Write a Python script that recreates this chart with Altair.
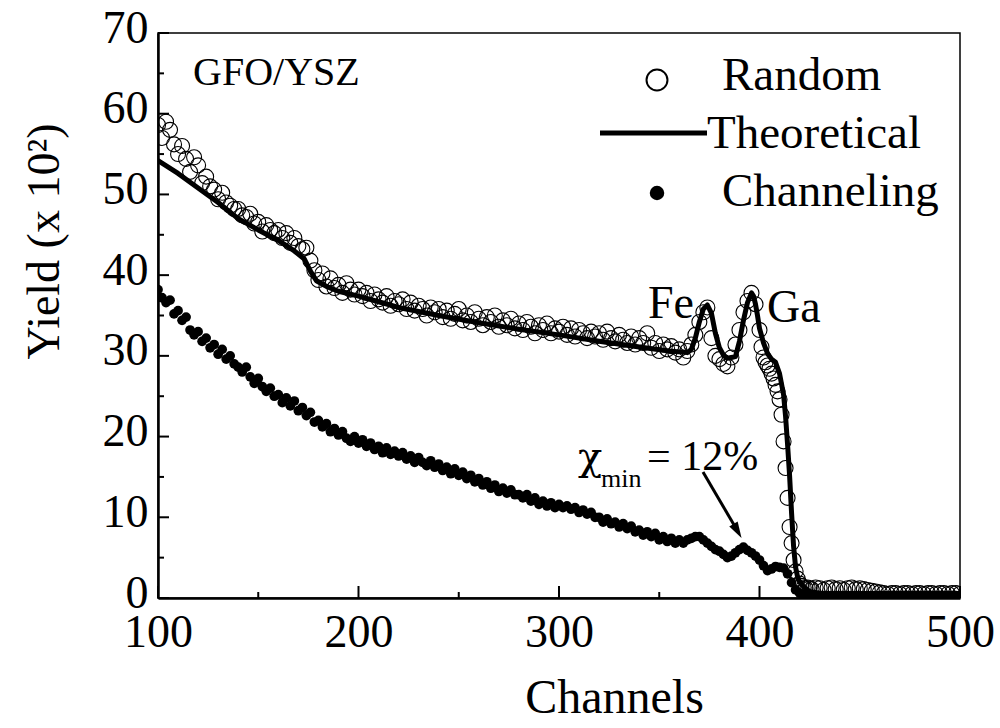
import altair as alt
import pandas as pd

SERIF = "Liberation Serif"
W, H = 802, 565  # plot area in pixels

# ---- Random spectrum (yield in units of 10^2 counts) ----
random_main_channels = list(range(100, 400, 2))
random_main = [
    58.6, 57.0, 59.0, 58.0, 56.2, 55.0, 56.0, 54.4, 52.8, 54.6,
    53.6, 51.4, 52.2, 51.0, 50.6, 49.4, 50.2, 49.0, 48.6, 48.2,
    48.2, 47.4, 47.2, 47.6, 46.4, 46.6, 45.4, 46.2, 45.6, 45.2,
    45.6, 44.6, 45.2, 44.0, 44.6, 43.6, 43.2, 43.4, 41.8, 40.6,
    39.4, 40.2, 38.6, 39.6, 38.4, 38.8, 37.8, 39.0, 38.2, 37.6,
    38.2, 37.4, 37.8, 36.8, 37.6, 37.0, 36.6, 37.4, 36.2, 36.8,
    36.4, 37.0, 35.8, 36.6, 35.6, 36.2, 35.8, 35.0, 36.0, 35.4,
    35.8, 34.8, 35.6, 34.6, 35.2, 35.8, 34.4, 35.0, 34.2, 35.4,
    34.6, 33.8, 34.8, 34.2, 35.0, 33.6, 34.4, 33.8, 34.6, 33.4,
    34.0, 33.2, 34.2, 33.6, 32.8, 33.8, 33.2, 34.0, 32.8, 33.4,
    33.0, 33.6, 32.6, 33.4, 32.4, 33.2, 32.8, 32.2, 33.0, 32.4,
    32.8, 32.0, 33.0, 32.2, 31.8, 32.6, 32.0, 31.6, 32.4, 31.4,
    32.2, 31.6, 32.8, 31.0, 31.6, 30.6, 31.4, 30.8, 31.2, 30.4,
    30.8, 29.8, 30.6, 31.4, 32.6, 34.2, 35.4, 36.0, 32.2, 30.0,
    29.6, 29.0, 28.7, 29.8, 31.4, 33.2, 35.4, 36.8, 37.8, 36.4,
]
random_edge_channels = list(range(400, 426))
random_edge = [
    33.2, 31.1, 29.8, 29.2, 28.8, 28.4, 27.8, 27.2, 26.4, 25.6,
    24.6, 22.7, 19.4, 16.1, 12.4, 8.8, 6.8, 4.7, 3.3, 2.4,
    1.8, 1.5, 1.3, 1.2, 1.3, 1.2,
]
random_tail_channels = list(range(426, 501, 2))
random_tail = [
    1.1, 1.3, 1.2, 1.0, 1.2, 1.3, 1.1, 1.2, 1.0, 1.2, 1.3, 1.1, 1.2, 1.1, 1.0,
    0.9, 0.8, 0.7,
    0.6, 0.5, 0.6, 0.6, 0.5, 0.6, 0.6, 0.5, 0.6, 0.6,
    0.5, 0.6, 0.6, 0.5, 0.6, 0.6, 0.5, 0.6, 0.6, 0.5,
]

# ---- Aligned (channeling) spectrum ----
channeling_channels = list(range(100, 501, 2))
channeling = [
    38.2, 37.2, 36.6, 36.9, 35.2, 35.6, 34.4, 34.8, 33.2, 32.6,
    33.0, 31.8, 32.2, 31.0, 31.4, 30.2, 30.8, 29.6, 30.0, 29.0,
    28.6, 28.0, 28.6, 27.4, 26.6, 27.2, 26.2, 25.6, 26.0, 25.0,
    25.2, 24.2, 24.8, 23.8, 24.4, 23.2, 23.6, 22.6, 23.0, 21.8,
    22.0, 21.2, 21.6, 20.6, 21.0, 20.2, 20.6, 19.8, 19.4, 20.0,
    19.2, 19.6, 18.8, 19.2, 18.4, 18.8, 18.0, 18.6, 17.8, 18.2,
    17.6, 18.0, 17.2, 17.6, 16.8, 17.4, 16.8, 16.4, 17.0, 16.2,
    16.6, 15.8, 16.2, 15.4, 16.0, 15.2, 15.6, 14.8, 15.2, 14.4,
    14.8, 14.0, 14.4, 13.6, 14.0, 13.2, 13.6, 13.0, 13.4, 12.8,
    12.8, 12.4, 12.8, 12.0, 12.4, 11.6, 12.0, 11.4, 11.8, 11.2,
    11.6, 11.2, 11.4, 11.0, 11.2, 10.6, 10.9, 10.4, 10.6, 10.0,
    10.0, 9.4, 9.8, 9.2, 9.4, 8.8, 9.2, 8.6, 8.9, 8.2,
    8.4, 7.8, 8.2, 7.6, 8.0, 7.2, 7.6, 7.0, 7.4, 6.8,
    7.2, 6.8, 7.2, 7.4, 7.6, 7.6, 7.2, 6.8, 6.4, 6.0,
    5.8, 5.4, 5.0, 5.2, 5.6, 6.0, 6.3, 5.9, 5.6, 5.2,
    4.7, 4.0, 3.4, 3.6, 3.9, 3.8, 3.7, 3.0, 1.9, 1.0,
    0.6, 0.4, 0.3, 0.3, 0.3, 0.3, 0.3, 0.3, 0.3, 0.3,
    0.3, 0.3, 0.3, 0.3, 0.3, 0.3, 0.3, 0.3, 0.3, 0.3,
    0.3, 0.3, 0.3, 0.3, 0.3, 0.3, 0.3, 0.3, 0.3, 0.3,
    0.3, 0.3, 0.3, 0.3, 0.3, 0.3, 0.3, 0.3, 0.3, 0.3,
    0.3,
]

# ---- Simulated random spectrum ----
theory_channels = [
    100, 110, 120, 130, 140, 150, 160, 168, 173, 176,
    179, 184, 190, 200, 210, 220, 240, 260, 280, 300,
    320, 340, 355, 364, 366, 368, 370, 372, 374, 376,
    378, 380, 382, 384, 386, 388, 390, 392, 394, 396,
    397, 398, 399, 400, 402, 404, 406, 408, 410, 412,
    413, 414, 415, 416, 417, 418, 419, 420, 422, 425,
    430, 500,
]
theory = [
    54.2, 52.6, 50.8, 49.0, 47.0, 45.6, 44.3, 43.0, 42.0, 40.5,
    39.3, 38.6, 38.0, 37.4, 36.7, 36.0, 35.0, 34.1, 33.3, 32.6,
    31.8, 31.1, 30.6, 30.4, 30.8, 32.2, 34.2, 35.8, 36.3, 35.3,
    32.8, 31.0, 30.1, 29.7, 29.8, 29.9, 31.8, 34.4, 36.6, 37.8,
    37.4, 36.4, 35.0, 33.4, 31.6, 30.3, 29.6, 29.2, 27.8, 25.2,
    22.5, 19.0, 15.2, 10.5, 6.4, 3.8, 2.6, 2.0, 1.4, 0.8,
    0.6, 0.5,
]

x_major = [100, 200, 300, 400, 500]
x_minor = [150, 250, 350, 450]
y_major = [0, 10, 20, 30, 40, 50, 60, 70]
y_minor = [5, 15, 25, 35, 45, 55, 65]

random_df = pd.DataFrame({
    "channel": random_main_channels + random_edge_channels + random_tail_channels,
    "yield": random_main + random_edge + random_tail,
})
channeling_df = pd.DataFrame({"channel": channeling_channels, "yield": channeling})
theory_df = pd.DataFrame({"channel": theory_channels, "yield": theory})

x_enc = alt.X(
    "channel:Q",
    scale=alt.Scale(domain=[100, 500], nice=False, zero=False),
    axis=alt.Axis(
        values=x_major, ticks=False, grid=False, format="d",
        domainColor="black", domainWidth=2.5,
        labelFontSize=46, labelPadding=12, labelFlush=False, labelOverlap=False,
        title="Channels", titleFontSize=48, titleFontWeight="normal",
        titleX=456, titleY=114, titleBaseline="alphabetic",
    ),
)
y_enc = alt.Y(
    "yield:Q",
    scale=alt.Scale(domain=[0, 70], nice=False),
    axis=alt.Axis(
        values=y_major, ticks=False, grid=False, format="d",
        domainColor="black", domainWidth=2.5,
        labelFontSize=46, labelPadding=10, labelOffset=-5,
        labelFlush=False, labelOverlap=False,
        title="Yield (x 10²)", titleFontSize=46, titleFontWeight="normal",
        titleAngle=270, titleX=-100, titleY=208,
        titleAlign="center", titleBaseline="alphabetic",
    ),
)

random_layer = alt.Chart(random_df).mark_point(
    shape="circle", filled=False, size=225, color="black",
    strokeWidth=1.1, opacity=1, clip=True,
).encode(x=x_enc, y=y_enc)

channeling_layer = alt.Chart(channeling_df).mark_circle(
    size=95, color="black", opacity=1, clip=True,
).encode(x=x_enc, y=y_enc)

theory_layer = alt.Chart(theory_df).mark_line(
    color="black", strokeWidth=5, strokeJoin="round", clip=True,
).encode(x=x_enc, y=y_enc)


# inward tick marks
def x_ticks(values, length):
    return alt.Chart(pd.DataFrame({"channel": values})).mark_rule(
        color="black", strokeWidth=2
    ).encode(x=x_enc, y=alt.value(H), y2=alt.value(H - length))


def y_ticks(values, length):
    return alt.Chart(pd.DataFrame({"yield": values})).mark_rule(
        color="black", strokeWidth=2
    ).encode(y=y_enc, x=alt.value(0), x2=alt.value(length))


one = pd.DataFrame({"k": [0]})


def note(text, x, y, size, font=SERIF):
    return alt.Chart(one).mark_text(
        text=text, font=font, fontSize=size, align="left",
        baseline="alphabetic", color="black",
    ).encode(x=alt.value(x), y=alt.value(y))


# legend swatches
legend_circle = alt.Chart(one).mark_point(
    shape="circle", filled=False, size=440, color="black", strokeWidth=2, opacity=1
).encode(x=alt.value(499), y=alt.value(47))
legend_line = alt.Chart(one).mark_rule(color="black", strokeWidth=5).encode(
    x=alt.value(442), x2=alt.value(549), y=alt.value(100)
)
legend_dot = alt.Chart(one).mark_circle(size=210, color="black", opacity=1).encode(
    x=alt.value(499), y=alt.value(160)
)

# arrow pointing at the channeling yield
arrow_shaft = alt.Chart(one).mark_rule(color="black", strokeWidth=3).encode(
    x=alt.value(545), y=alt.value(439), x2=alt.value(579), y2=alt.value(497)
)
arrow_head = alt.Chart(one).mark_point(
    shape="M0,-1L-0.6,1L0.6,1Z", size=260, filled=True, color="black",
    opacity=1, angle=150,
).encode(x=alt.value(579.5), y=alt.value(498))

chart = alt.layer(
    random_layer,
    channeling_layer,
    theory_layer,
    x_ticks(x_major, 12),
    x_ticks(x_minor, 6),
    y_ticks(y_major, 11),
    y_ticks(y_minor, 6),
    legend_circle, legend_line, legend_dot,
    note("Random", 564, 57, 47),
    note("Theoretical", 549, 115, 47),
    note("Channeling", 564, 173, 47),
    note("GFO/YSZ", 35, 52, 40),
    note("Fe", 490, 285, 46),
    note("Ga", 609, 289, 46),
    note("χ", 420, 437, 40, font="DejaVu Serif"),
    note("min", 443, 454, 26),
    note("= 12%", 489, 437, 42),
    arrow_shaft, arrow_head,
).properties(
    width=W, height=H,
    padding={"left": 158, "top": 33, "right": 40, "bottom": 130},
    autosize=alt.AutoSizeParams(type="none"),
    background="white",
).configure_view(
    stroke="black", strokeWidth=1.5
).configure_axis(
    labelFont=SERIF, titleFont=SERIF, labelColor="black", titleColor="black"
)

chart.save("out.html", embed_options={"renderer": "svg", "actions": False})
